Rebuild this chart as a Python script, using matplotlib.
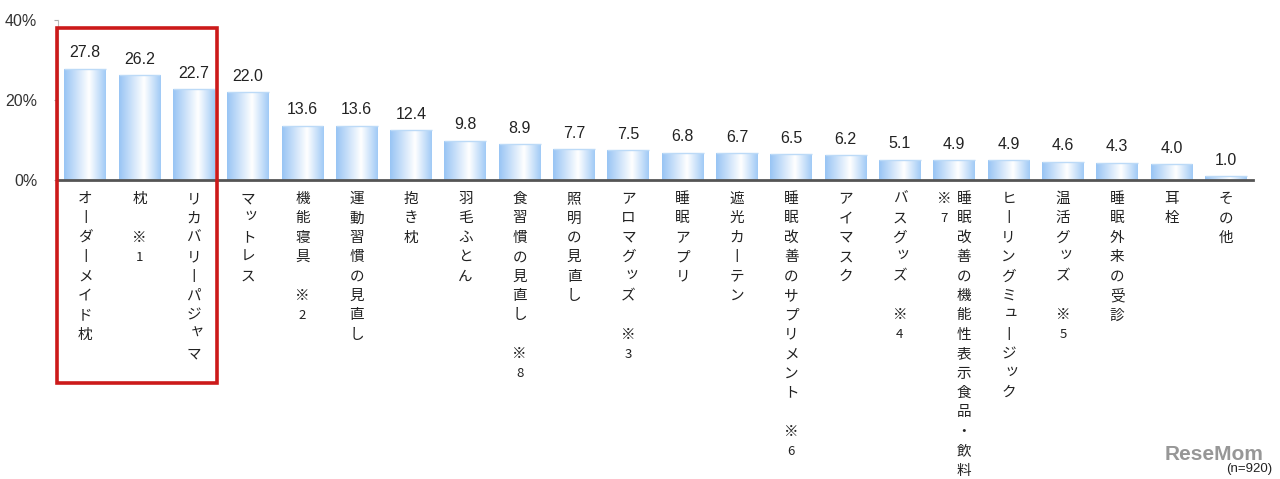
import numpy as np
import matplotlib
matplotlib.use('Agg')
import matplotlib.pyplot as plt
from matplotlib.colors import LinearSegmentedColormap
from matplotlib.patches import Rectangle

# data
labels = ['オーダーメイド枕', '枕', 'リカバリーパジャマ', 'マットレス', '機能寝具',
          '運動習慣の見直し', '抱き枕', '羽毛ふとん', '食習慣の見直し', '照明の見直し',
          'アロマグッズ', '睡眠アプリ', '遮光カーテン', '睡眠改善のサプリメント',
          'アイマスク', 'バスグッズ', '睡眠改善の機能性表示食品・飲料',
          'ヒーリングミュージック', '温活グッズ', '睡眠外来の受診', '耳栓', 'その他']
values = [27.8, 26.2, 22.7, 22.0, 13.6, 13.6, 12.4, 9.8, 8.9, 7.7, 7.5,
          6.8, 6.7, 6.5, 6.2, 5.1, 4.9, 4.9, 4.6, 4.3, 4.0, 1.0]
notes = [None, '1', None, None, '2', None, None, None, '8', None, '3',
         None, None, '6', None, '4', '7', None, '5', None, None, None]
y_ticks = [0, 20, 40]
sample_note = '(n=920)'

plt.rcParams['font.family'] = ['Liberation Sans', 'Noto Sans CJK JP', 'DejaVu Sans']
jp_font = ['Noto Sans CJK JP', 'DejaVu Sans']

W, H = 1280, 479
fig = plt.figure(figsize=(W / 100, H / 100), dpi=100)
ax = fig.add_axes([58 / W, 1 - 180 / H, (1253 - 58) / W, 160 / H])

cmap = LinearSegmentedColormap.from_list(
    'bar', [(0, '#98c4f4'), (0.6, '#ffffff'), (1, '#a0caf6')])
grad = np.linspace(0, 1, 256).reshape(1, -1)

x = np.arange(len(values))
bars = ax.bar(x, values, width=0.77, color='none', edgecolor='none', zorder=2)
for b in bars:
    im = ax.imshow(grad, cmap=cmap, aspect='auto', origin='lower', zorder=2,
                   extent=[b.get_x(), b.get_x() + b.get_width(), 0, b.get_height()],
                   interpolation='bilinear')
    im.set_clip_path(b)
    ax.plot([b.get_x(), b.get_x() + b.get_width()], [b.get_height()] * 2,
            color='#bcdaf7', lw=1, zorder=3, solid_capstyle='butt')

for i, v in enumerate(values):
    ax.annotate(f'{v:.1f}', (i, v), xytext=(0, 6), textcoords='offset points',
                ha='center', va='bottom', fontsize=11.5, color='#222222')

ax.set_xlim(-0.5, len(values) - 0.5)
ax.set_ylim(0, 40)
ax.set_yticks(y_ticks)
ax.set_yticklabels([f'{t}%' for t in y_ticks], fontsize=11.5, color='#333333')
ax.set_xticks([])
ax.tick_params(axis='y', direction='out', length=3, width=0.8, color='#aaaaaa', pad=12)
for s in ['top', 'right']:
    ax.spines[s].set_visible(False)
ax.spines['left'].set_color('#bbbbbb')
ax.spines['left'].set_linewidth(0.8)
ax.spines['bottom'].set_color('#555555')
ax.spines['bottom'].set_linewidth(2)
ax.spines['bottom'].set_zorder(4)

# vertical (tategaki) category labels, one glyph per line
small_kana = set('ッャュョィァ')
step = 19.4 * 0.72  # px -> pt
first = 19 * 0.72


def put_column(i, chars, dx):
    for k, ch in enumerate(chars):
        if ch == ' ':
            continue
        ox, oy = dx, -(first + k * step)
        if ch == 'ー':
            ch = '丨'  # long vowel mark drawn upright in vertical text
        if ch in small_kana:
            ox += 2.2
            oy += 2.2
        fs = 10.5
        if ch.isdigit():
            fs = 9.5
        ax.annotate(ch, (i, 0), xycoords=('data', 'axes fraction'),
                    xytext=(ox, oy), textcoords='offset points',
                    ha='center', va='center', fontsize=fs,
                    color='#222222', family=jp_font, annotation_clip=False)


for i, (lab, nt) in enumerate(zip(labels, notes)):
    if nt is None:
        put_column(i, lab, 0)
    elif i == 16:
        # this long label carries its note in a column to the left
        put_column(i, lab, 7)
        put_column(i, '※' + nt, -7.5)
    else:
        put_column(i, lab + ' ※' + nt, 0)

# red highlight frame round the top three
fig.patches.append(Rectangle((56.5 / W, 1 - 382.5 / H), (217 - 56.5) / W,
                             (382.5 - 27.5) / H, transform=fig.transFigure,
                             fill=False, edgecolor='#cc1a1a', lw=2.6))

fig.text(1214 / W, 1 - 454 / H, 'ReseMom', fontsize=15, fontweight='bold',
         color='#8c8c8c', ha='center', va='center', alpha=0.9)
fig.text(1272 / W, 1 - 469 / H, sample_note, fontsize=9.5, color='#222222',
         ha='right', va='center')

fig.savefig('out.png', dpi=100)
